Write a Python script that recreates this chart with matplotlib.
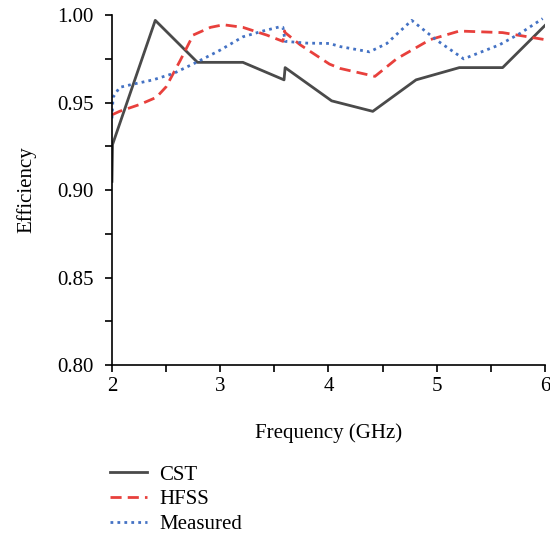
import matplotlib
matplotlib.use("Agg")
import matplotlib.pyplot as plt
from matplotlib.ticker import MultipleLocator, FormatStrFormatter

# ── Datos ────────────────────────────────────────────────────────────────────
cst_f = [2.00, 2.005, 2.40, 2.79, 3.21, 3.59, 3.60, 4.03, 4.41, 4.81, 5.21, 5.61, 6.00]
cst_e = [0.905, 0.926, 0.997, 0.973, 0.973, 0.963, 0.970, 0.951, 0.945, 0.963, 0.970, 0.970, 0.994]

hfss_f = [2.00, 2.07, 2.26, 2.41, 2.50, 2.63, 2.75, 2.91, 3.03, 3.21, 3.43, 3.58, 3.595,
          3.60, 3.74, 4.01, 4.11, 4.43, 4.63, 4.94, 5.21, 5.61, 6.00]
hfss_e = [0.943, 0.945, 0.949, 0.953, 0.959, 0.974, 0.9886, 0.993, 0.9945, 0.993, 0.9886,
          0.985, 0.991, 0.990, 0.983, 0.972, 0.9695, 0.965, 0.975, 0.986, 0.9909, 0.990, 0.986]

meas_f = [2.00, 2.01, 2.07, 2.20, 2.38, 2.57, 2.78, 3.00, 3.21, 3.40, 3.55, 3.58, 3.60,
          3.80, 4.01, 4.11, 4.38, 4.54, 4.77, 5.00, 5.25, 5.58, 5.77, 5.98]
meas_e = [0.941, 0.953, 0.9587, 0.9606, 0.963, 0.9667, 0.973, 0.980, 0.9876, 0.991, 0.9933,
          0.993, 0.985, 0.984, 0.9838, 0.982, 0.979, 0.9838, 0.997, 0.9857, 0.975, 0.983,
          0.9895, 0.998]

plt.rcParams["font.family"] = ["Liberation Serif", "DejaVu Serif"]
FS = 15

fig = plt.figure(figsize=(5.5, 5.4), dpi=100)
ax = fig.add_axes([0.2036, 0.324, 0.787, 0.648])

ax.plot(cst_f, cst_e, color="#4a4a4a", lw=2.0, label="CST")
ax.plot(hfss_f, hfss_e, color="#e8403c", lw=2.0, ls=(0, (4, 2.2)), label="HFSS")
ax.plot(meas_f, meas_e, color="#4472c4", lw=2.0, ls=(0, (1, 1.5)), label="Measured")

ax.set_xlim(2, 6)
ax.set_ylim(0.80, 1.00)
ax.xaxis.set_major_locator(MultipleLocator(1))
ax.xaxis.set_minor_locator(MultipleLocator(0.5))
ax.yaxis.set_major_locator(MultipleLocator(0.05))
ax.yaxis.set_minor_locator(MultipleLocator(0.025))
ax.yaxis.set_major_formatter(FormatStrFormatter("%.2f"))
ax.tick_params(which="both", direction="out", length=5, width=1.2, labelsize=FS)
ax.tick_params(axis="y", which="major", pad=8)
ax.spines["top"].set_visible(False)
ax.spines["right"].set_visible(False)
for s in ("left", "bottom"):
    ax.spines[s].set_linewidth(1.2)

ax.set_xlabel("Frequency (GHz)", fontsize=FS, va="center")
ax.set_ylabel("Efficiency", fontsize=FS, va="center")
ax.xaxis.set_label_coords(0.5, -0.194)
ax.yaxis.set_label_coords(-0.198, 0.5)

ax.legend(loc="upper left", bbox_to_anchor=(-0.023, -0.262), frameon=False,
          fontsize=FS, handlelength=1.75, handletextpad=0.6, labelspacing=0.25,
          borderaxespad=0)

fig.savefig("out.png", dpi=100)
